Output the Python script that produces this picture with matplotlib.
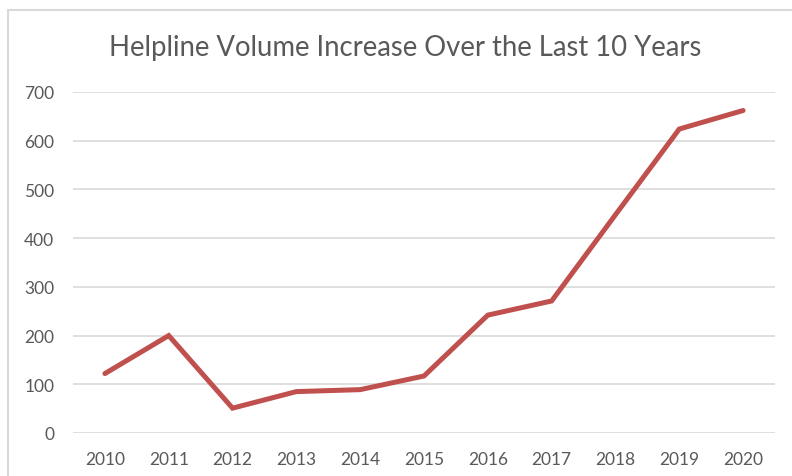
import matplotlib
matplotlib.use("Agg")
import matplotlib.pyplot as plt
from matplotlib.patches import Rectangle

years = ["2010", "2011", "2012", "2013", "2014", "2015",
         "2016", "2017", "2018", "2019", "2020"]
calls = [122, 200, 51, 85, 89, 117, 242, 271, 448, 624, 662]
y_ticks = [0, 100, 200, 300, 400, 500, 600, 700]

plt.rcParams['font.family'] = ['Lato', 'DejaVu Sans']

fig = plt.figure(figsize=(7.92, 4.77), dpi=100)
ax = fig.add_axes([73 / 792, 1 - 434 / 477, 702 / 792, 341 / 477])

# chart frame (cut off at right and bottom, like the screenshot)
fig.patches.append(Rectangle((8 / 792, -0.1), 1.2, 1 - 11 / 477 + 0.1,
                             transform=fig.transFigure, fill=False,
                             edgecolor='#D9D9D9', linewidth=1.5))

x = list(range(len(years)))
ax.plot(x, calls, color='#C0504D', linewidth=3.6,
        solid_capstyle='round', solid_joinstyle='miter')

ax.set_xlim(-0.5, len(years) - 0.5)
ax.set_ylim(0, 700)
ax.set_yticks(y_ticks)
ax.set_xticks(x)
ax.set_xticklabels(years)
ax.grid(axis='y', color='#D9D9D9', linewidth=1.2)
ax.set_axisbelow(True)
for s in ax.spines.values():
    s.set_visible(False)
ax.tick_params(length=0, colors='#595959', labelsize=12.5)
ax.tick_params(axis='y', pad=13.5)
ax.tick_params(axis='x', pad=13)

fig.text(405 / 792, 1 - 48 / 477, 'Helpline Volume Increase Over the Last 10 Years',
         ha='center', va='center', fontsize=19.8, color='#595959')

fig.savefig('out.png', dpi=100)
